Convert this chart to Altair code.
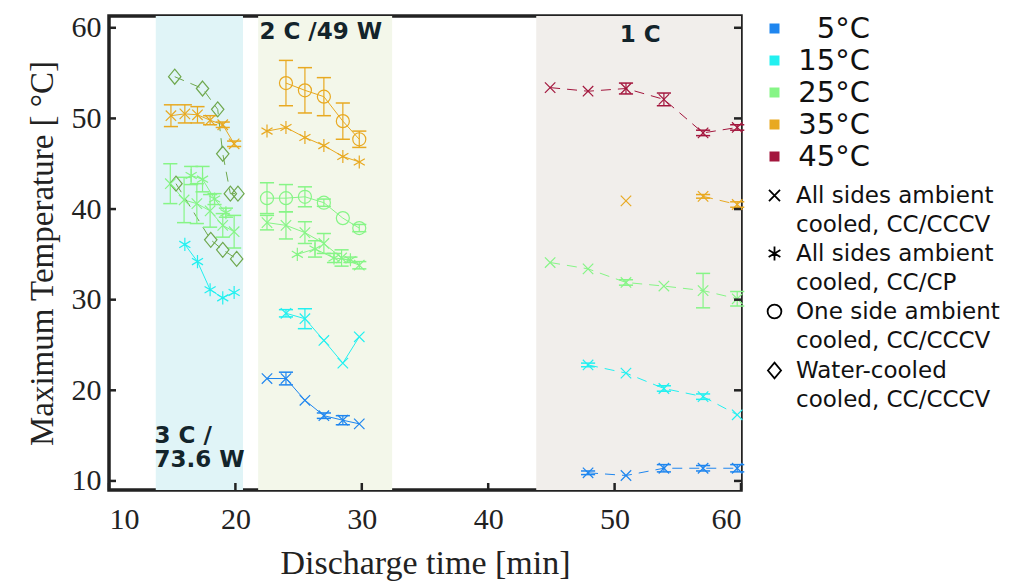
import altair as alt
import pandas as pd

# ---------------- categories / styling lists ----------------
temps = ["5°C", "15°C", "25°C", "35°C", "45°C"]
temp_colors = ["#1f86ef", "#22f0f0", "#86f586", "#e8a921", "#a3163d"]
water_key = "water"
water_color = "#6fa84e"
methods = [
    "All sides ambient|cooled, CC/CCCV",
    "All sides ambient|cooled, CC/CP",
    "One side ambient|cooled, CC/CCCV",
    "Water-cooled|cooled, CC/CCCV",
]
method_shapes = [
    "M-0.8,-0.8L0.8,0.8M-0.8,0.8L0.8,-0.8",
    "M-0.85,-0.5L0.85,0.5M-0.85,0.5L0.85,-0.5M0,-1L0,1",
    "circle",
    "M0,-1.15L0.95,0L0,1.15L-0.95,0Z",
]
x_ticks = [10, 20, 30, 40, 50, 60]
y_ticks = [10, 20, 30, 40, 50, 60]

# shaded C-rate regions
band_start = [13.7, 21.8, 43.8]
band_end = [20.6, 32.4, 60.0]
band_fill = ["#e0f4f7", "#f3f7ea", "#f1eeeb"]

annot_text = ["3 C /", "73.6 W", "2 C /49 W", "1 C"]
annot_t = [13.6, 13.6, 21.9, 50.4]
annot_T = [15.0, 12.3, 59.5, 59.2]

# ---------------- series values ----------------
# 3 C / 73.6 W
wc35_t = [15.2, 17.4, 18.6, 19.0, 19.6, 20.2]
wc35_T = [54.6, 53.3, 51.0, 46.1, 41.7, 41.7]
wc25_t = [15.3, 18.05, 19.0, 20.1]
wc25_T = [42.8, 36.6, 35.5, 34.5]
c3_35x_t = [14.9, 16.0, 17.0, 18.0, 19.0, 19.9]
c3_35x_T = [50.3, 50.5, 50.4, 49.8, 49.3, 47.2]
c3_35x_e = [1.2, 1.0, 0.9, 0.5, 0.3, 0.3]
c3_25a_t = [16.5, 17.4, 18.35, 19.25]
c3_25a_T = [43.7, 43.3, 41.1, 39.6]
c3_25a_e = [1.0, 1.4, 0.6, 0.5]
c3_25x_t = [14.85, 15.94, 16.95, 18.0, 19.0, 19.9]
c3_25x_T = [42.8, 41.0, 40.6, 39.8, 38.2, 37.5]
c3_25x_e = [2.2, 2.5, 2.2, 1.8, 1.3, 1.8]
c3_15a_t = [16.0, 17.0, 18.0, 19.0, 19.9]
c3_15a_T = [36.1, 34.2, 31.1, 30.2, 30.8]

# 2 C / 49 W
c2_35o_t = [24.0, 25.5, 27.0, 28.5, 29.8]
c2_35o_T = [53.9, 53.1, 52.4, 49.7, 47.7]
c2_35o_e = [2.5, 2.5, 2.1, 2.0, 0.9]
c2_35a_t = [22.5, 24.0, 25.5, 27.0, 28.5, 29.8]
c2_35a_T = [48.6, 49.0, 47.9, 47.0, 45.8, 45.2]
c2_25o_t = [22.5, 24.0, 25.5, 27.0, 28.5, 29.8]
c2_25o_T = [41.2, 41.2, 41.35, 40.7, 39.0, 37.9]
c2_25o_e = [1.7, 1.5, 1.1, 0.4, 0.0, 0.4]
c2_25x_t = [22.5, 24.0, 25.5, 27.0, 28.4, 29.8]
c2_25x_T = [38.5, 38.2, 37.4, 36.2, 34.6, 33.8]
c2_25x_e = [0.8, 1.5, 1.2, 1.1, 0.9, 0.4]
c2_25a_t = [24.9, 26.3, 27.8, 29.1]
c2_25a_T = [35.0, 35.6, 34.6, 34.4]
c2_25a_e = [0.0, 0.9, 0.5, 0.3]
c2_15x_t = [24.0, 25.5, 27.0, 28.5, 29.8]
c2_15x_T = [28.5, 27.9, 25.5, 23.0, 25.9]
c2_15x_e = [0.4, 1.1, 0.0, 0.0, 0.0]
c2_5x_t = [22.5, 24.0, 25.5, 27.0, 28.5, 29.8]
c2_5x_T = [21.3, 21.3, 18.9, 17.2, 16.7, 16.3]
c2_5x_e = [0.0, 0.7, 0.0, 0.3, 0.5, 0.0]

# 1 C
c1_45_t = [44.9, 47.9, 50.9, 53.9, 57.0, 59.7]
c1_45_T = [53.4, 53.0, 53.3, 52.1, 48.4, 49.0]
c1_45_e = [0.0, 0.0, 0.6, 0.7, 0.3, 0.3]
c1_35a_t = [50.9]
c1_35a_T = [40.9]
c1_35b_t = [57.0, 59.7]
c1_35b_T = [41.4, 40.5]
c1_35b_e = [0.2, 0.3]
c1_25_t = [44.9, 47.9, 50.9, 53.9, 57.0, 59.7]
c1_25_T = [34.1, 33.4, 31.9, 31.5, 31.0, 30.1]
c1_25_e = [0.0, 0.0, 0.3, 0.0, 1.9, 0.8]
c1_15_t = [47.9, 50.9, 53.9, 57.0, 59.7]
c1_15_T = [22.8, 21.9, 20.2, 19.3, 17.3]
c1_15_e = [0.2, 0.0, 0.3, 0.3, 0.0]
c1_5_t = [47.9, 50.9, 53.9, 57.0, 59.7]
c1_5_T = [10.9, 10.6, 11.4, 11.4, 11.4]
c1_5_e = [0.2, 0.0, 0.4, 0.3, 0.4]

# (series id, temperature index, colour key, method index, dashed, t, T, err)
series = [
    ("wc35", 3, water_key, 3, True, wc35_t, wc35_T, None),
    ("wc25", 2, water_key, 3, True, wc25_t, wc25_T, None),
    ("c3_35x", 3, None, 0, False, c3_35x_t, c3_35x_T, c3_35x_e),
    ("c3_25a", 2, None, 1, False, c3_25a_t, c3_25a_T, c3_25a_e),
    ("c3_25x", 2, None, 0, False, c3_25x_t, c3_25x_T, c3_25x_e),
    ("c3_15a", 1, None, 1, False, c3_15a_t, c3_15a_T, None),
    ("c2_35o", 3, None, 2, False, c2_35o_t, c2_35o_T, c2_35o_e),
    ("c2_35a", 3, None, 1, False, c2_35a_t, c2_35a_T, None),
    ("c2_25o", 2, None, 2, False, c2_25o_t, c2_25o_T, c2_25o_e),
    ("c2_25x", 2, None, 0, False, c2_25x_t, c2_25x_T, c2_25x_e),
    ("c2_25a", 2, None, 1, False, c2_25a_t, c2_25a_T, c2_25a_e),
    ("c2_15x", 1, None, 0, False, c2_15x_t, c2_15x_T, c2_15x_e),
    ("c2_5x", 0, None, 0, False, c2_5x_t, c2_5x_T, c2_5x_e),
    ("c1_45", 4, None, 0, True, c1_45_t, c1_45_T, c1_45_e),
    ("c1_35a", 3, None, 0, True, c1_35a_t, c1_35a_T, None),
    ("c1_35b", 3, None, 0, True, c1_35b_t, c1_35b_T, c1_35b_e),
    ("c1_25", 2, None, 0, True, c1_25_t, c1_25_T, c1_25_e),
    ("c1_15", 1, None, 0, True, c1_15_t, c1_15_T, c1_15_e),
    ("c1_5", 0, None, 0, True, c1_5_t, c1_5_T, c1_5_e),
]

rows = []
for sid, ti, ck, mi, dashed, ts, Ts, es in series:
    for k in range(len(ts)):
        e = es[k] if es else 0.0
        rows.append({
            "sid": sid, "Temp": temps[ti], "Col": ck if ck else temps[ti],
            "Method": methods[mi], "dashed": dashed,
            "t": ts[k], "T": Ts[k], "err": e, "lo": Ts[k] - e, "hi": Ts[k] + e,
        })
df = pd.DataFrame(rows)
err_df = df[df["err"] > 0]

bands = pd.DataFrame({"a": band_start, "b": band_end, "f": band_fill})
annots = pd.DataFrame({"t": annot_t, "T": annot_T, "label": annot_text})
xt = pd.DataFrame({"v": x_ticks})
yt = pd.DataFrame({"v": y_ticks})

W, H = 632, 474
serif = "Liberation Serif"
sans = "DejaVu Sans"

xscale = alt.Scale(domain=[10, 60], nice=False, zero=False)
yscale = alt.Scale(domain=[9, 61.3], nice=False, zero=False)
X = alt.X("t:Q", scale=xscale, axis=alt.Axis(
    values=x_ticks, title="Discharge time [min]", ticks=False, domain=False, grid=False,
    labelFont=serif, labelFontSize=30, labelPadding=14, labelColor="#222",
    titleFont=serif, titleFontSize=34, titleFontWeight="normal", titleColor="#222", titlePadding=12))
Y = alt.Y("T:Q", scale=yscale, axis=alt.Axis(
    values=y_ticks, title="Maximum Temperature [ °C]", ticks=False, domain=False, grid=False,
    labelFont=serif, labelFontSize=30, labelPadding=8, labelColor="#222",
    titleFont=serif, titleFontSize=33, titleFontWeight="normal", titleColor="#222", titlePadding=12))
stroke_scale = alt.Scale(domain=temps + [water_key], range=temp_colors + [water_color])
STROKE = alt.Stroke("Col:N", scale=stroke_scale, legend=None)

band_layer = alt.Chart(bands).mark_rect().encode(
    x=alt.X("a:Q", scale=xscale), x2="b:Q",
    y=alt.value(0), y2=alt.value(H),
    fill=alt.Fill("f:N", scale=None))

legend_layer = alt.Chart(df).mark_square(filled=True, opacity=0).encode(
    x=X, y=Y,
    color=alt.Color("Temp:N", scale=alt.Scale(domain=temps, range=temp_colors),
                    legend=alt.Legend(title=None, orient="none", legendX=651, legendY=-2,
                                      symbolType="square", symbolSize=100, symbolOpacity=1,
                                      labelFont=sans, labelFontSize=29, labelColor="#111",
                                      labelAlign="right", labelOffset=81,
                                      rowPadding=2, padding=0)))

solid_lines = alt.Chart(df).transform_filter("!datum.dashed").mark_line(strokeWidth=1).encode(
    x=X, y=Y, detail="sid:N", stroke=STROKE, order="t:Q")
dashed_lines = alt.Chart(df).transform_filter("datum.dashed").mark_line(
    strokeWidth=1, strokeDash=[10, 7]).encode(
    x=X, y=Y, detail="sid:N", stroke=STROKE, order="t:Q")

err_rules = alt.Chart(err_df).mark_rule(strokeWidth=1.2).encode(
    x=X, y=alt.Y("lo:Q", scale=yscale), y2="hi:Q", stroke=STROKE)
err_caps = alt.Chart(err_df).transform_fold(["lo", "hi"], as_=["k", "yv"]).mark_point(
    shape="M-1,0L1,0", size=200, strokeWidth=1.5, filled=False, opacity=1).encode(
    x=X, y=alt.Y("yv:Q", scale=yscale), stroke=STROKE)

points = alt.Chart(df).mark_point(filled=False, size=170, strokeWidth=1.2, opacity=1).encode(
    x=X, y=Y, stroke=STROKE,
    shape=alt.Shape("Method:N", scale=alt.Scale(domain=methods, range=method_shapes),
                    legend=alt.Legend(title=None, orient="none", legendX=654, legendY=168,
                                      labelExpr="split(datum.label, '|')",
                                      labelFont=sans, labelFontSize=23, labelColor="#111",
                                      symbolStrokeColor="black", symbolFillColor="transparent",
                                      symbolStrokeWidth=1.8, symbolSize=190,
                                      labelOffset=10, rowPadding=5, padding=0, labelLimit=400)))

text_layer = alt.Chart(annots).mark_text(
    align="left", baseline="middle", font=sans, fontWeight="bold", fontSize=23,
    color="#13242b").encode(x=alt.X("t:Q", scale=xscale), y=alt.Y("T:Q", scale=yscale), text="label:N")

tick_left = alt.Chart(yt).mark_rule(color="#222", strokeWidth=2.5).encode(
    y=alt.Y("v:Q", scale=yscale), x=alt.value(0), x2=alt.value(7))
tick_right = alt.Chart(yt).mark_rule(color="#222", strokeWidth=2.5).encode(
    y=alt.Y("v:Q", scale=yscale), x=alt.value(W - 7), x2=alt.value(W))
tick_bottom = alt.Chart(xt).mark_rule(color="#222", strokeWidth=2.5).encode(
    x=alt.X("v:Q", scale=xscale), y=alt.value(H - 7), y2=alt.value(H))

chart = alt.layer(
    band_layer, legend_layer, solid_lines, dashed_lines, err_rules, err_caps, points,
    text_layer, tick_left, tick_right, tick_bottom
).properties(
    width=W, height=H, autosize="none",
    padding={"left": 109, "top": 16, "right": 1009 - 109 - W, "bottom": 582 - 16 - H},
    background="white",
).configure(
    style={"guide-label": {"lineHeight": 29}},
    view=alt.ViewConfig(stroke="#222", strokeWidth=3.5),
)

chart.save("out.html", embed_options={"renderer": "svg", "actions": False})
